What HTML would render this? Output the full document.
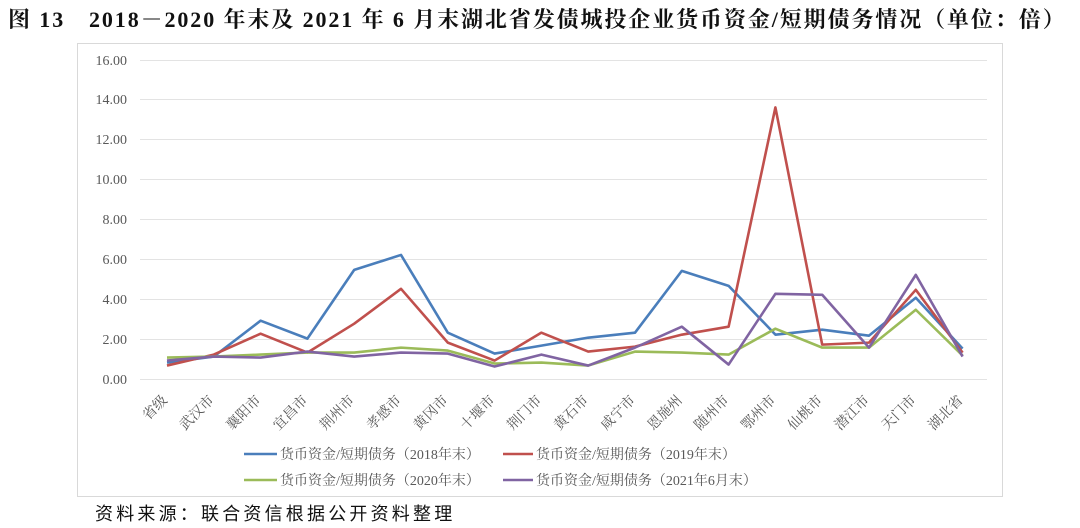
<!DOCTYPE html>
<html><head><meta charset="utf-8"><style>
body{margin:0;width:1080px;height:528px;background:#fff;overflow:hidden;font-family:"Liberation Serif","Noto Serif CJK SC",serif;}
.t{position:absolute;left:8px;top:3px;font-size:22px;font-weight:bold;color:#111;white-space:nowrap;letter-spacing:1.9px}
.f{position:absolute;left:95px;top:500px;font-size:18px;color:#111;font-family:"Liberation Serif","Noto Sans CJK SC",sans-serif;letter-spacing:3.2px}
svg{position:absolute;left:0;top:0}
</style></head><body>
<div class="t">图 13　2018－2020 年末及 2021 年 6 月末湖北省发债城投企业货币资金/短期债务情况（单位：倍）</div>
<svg width="1080" height="528" font-family="Liberation Serif, Noto Serif CJK SC, serif">
<rect x="77.5" y="43.5" width="925" height="453" fill="none" stroke="#d9d9d9"/>
<g stroke="#e3e3e3" stroke-width="1">
<line x1="140" x2="987" y1="379.5" y2="379.5"/><line x1="140" x2="987" y1="339.5" y2="339.5"/><line x1="140" x2="987" y1="299.5" y2="299.5"/><line x1="140" x2="987" y1="259.5" y2="259.5"/><line x1="140" x2="987" y1="219.5" y2="219.5"/><line x1="140" x2="987" y1="179.5" y2="179.5"/><line x1="140" x2="987" y1="139.5" y2="139.5"/><line x1="140" x2="987" y1="99.5" y2="99.5"/><line x1="140" x2="987" y1="60.5" y2="60.5"/>
</g>
<g font-size="14" fill="#595959" text-anchor="end">
<text x="127" y="384">0.00</text><text x="127" y="344">2.00</text><text x="127" y="304">4.00</text><text x="127" y="264">6.00</text><text x="127" y="224">8.00</text><text x="127" y="184">10.00</text><text x="127" y="144">12.00</text><text x="127" y="104">14.00</text><text x="127" y="65">16.00</text>
</g>
<g id="xl" font-size="14" fill="#595959" text-anchor="end"></g>
<g fill="none" stroke-width="2.6" stroke-linejoin="round" id="ls"></g>
<g font-size="14" fill="#595959">
<line x1="244" x2="277" y1="454" y2="454" stroke="#4a7ebb" stroke-width="2.6"/><text x="280" y="459">货币资金/短期债务（2018年末）</text>
<line x1="503" x2="533" y1="454" y2="454" stroke="#c0504d" stroke-width="2.6"/><text x="536" y="459">货币资金/短期债务（2019年末）</text>
<line x1="244" x2="277" y1="480" y2="480" stroke="#9bbb59" stroke-width="2.6"/><text x="280" y="485">货币资金/短期债务（2020年末）</text>
<line x1="503" x2="533" y1="480" y2="480" stroke="#8064a2" stroke-width="2.6"/><text x="536" y="485">货币资金/短期债务（2021年6月末）</text>
</g>
</svg>
<div class="f">资料来源：联合资信根据公开资料整理</div>
<script>
var cats=["省级","武汉市","襄阳市","宜昌市","荆州市","孝感市","黄冈市","十堰市","荆门市","黄石市","咸宁市","恩施州","随州市","鄂州市","仙桃市","潜江市","天门市","湖北省"];
var d=[["#4a7ebb",[0.85,1.15,2.95,2.05,5.5,6.25,2.35,1.3,1.7,2.1,2.35,5.45,4.7,2.25,2.5,2.2,4.1,1.55]],
["#c0504d",[0.7,1.25,2.3,1.35,2.8,4.55,1.85,0.95,2.35,1.4,1.65,2.25,2.65,13.65,1.75,1.85,4.5,1.35]],
["#9bbb59",[1.1,1.15,1.25,1.35,1.35,1.6,1.45,0.8,0.85,0.7,1.4,1.35,1.25,2.55,1.6,1.6,3.5,1.2]],
["#8064a2",[0.95,1.15,1.1,1.4,1.15,1.35,1.3,0.65,1.25,0.7,1.6,2.65,0.75,4.3,4.25,1.6,5.25,1.15]]];
var ns="http://www.w3.org/2000/svg",ls=document.getElementById("ls"),xl=document.getElementById("xl");
function X(i){return 167+46.8*i}function Y(v){return 379.5-v*19.93}
d.forEach(function(s){var p=document.createElementNS(ns,"polyline");p.setAttribute("stroke",s[0]);p.setAttribute("points",s[1].map(function(v,i){return X(i)+","+Y(v)}).join(" "));ls.appendChild(p);});
cats.forEach(function(c,i){var t=document.createElementNS(ns,"text");var x=X(i)+1,y=401;t.setAttribute("x",x);t.setAttribute("y",y);t.setAttribute("transform","rotate(-45 "+x+" "+y+")");t.textContent=c;xl.appendChild(t);});
</script>
</body></html>
